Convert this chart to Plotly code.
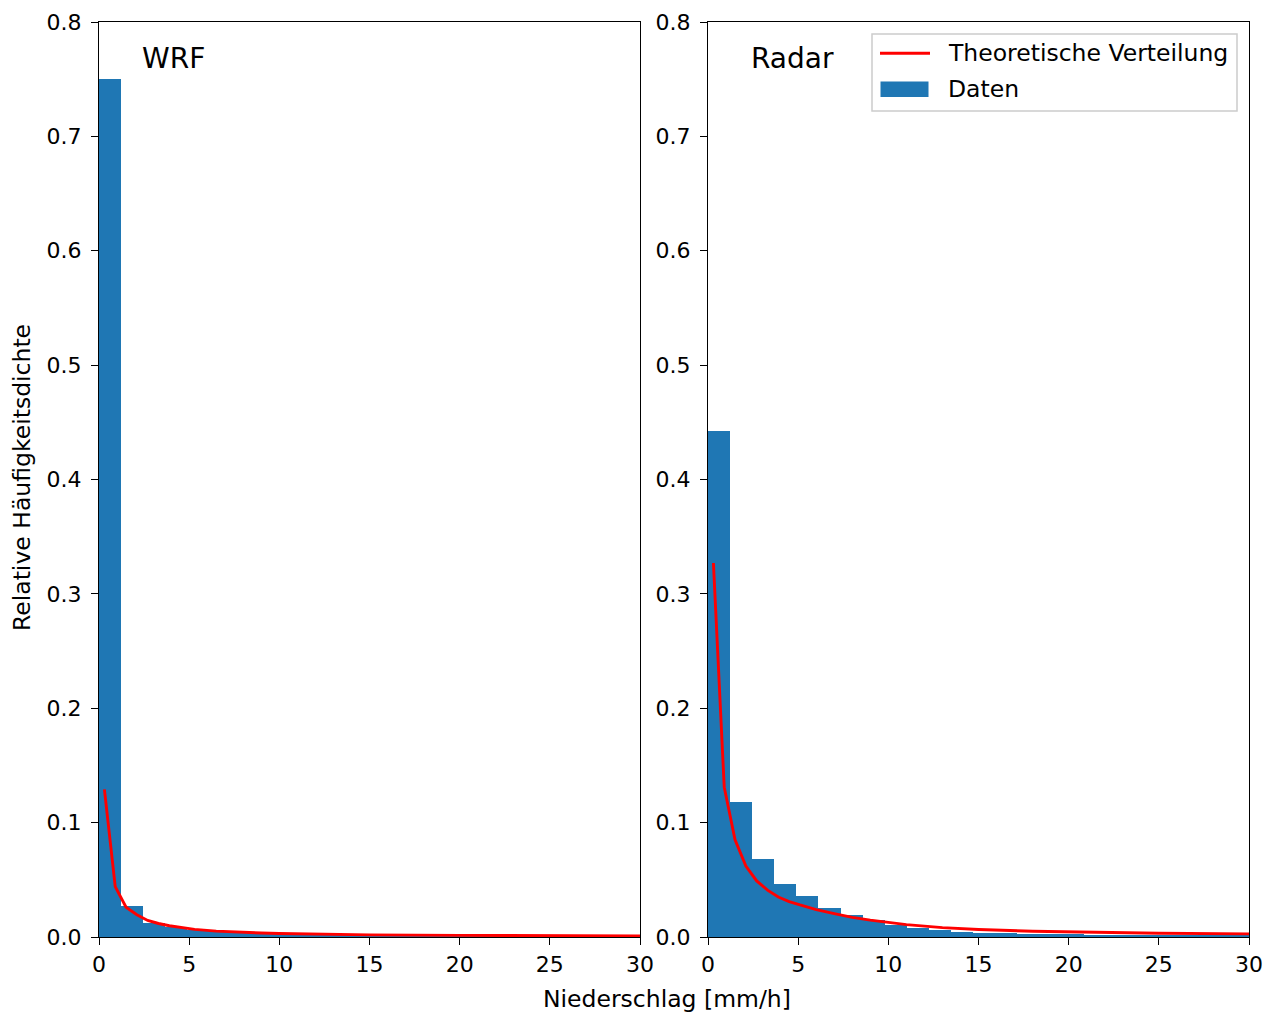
import plotly.graph_objects as go

# Histogram bin width (mm/h) shared by both panels
bin_width = 1.225

# Relative frequency density per bin, WRF model
wrf_density = [0.750, 0.0274, 0.0125, 0.0085, 0.0062, 0.0050, 0.0041, 0.0034,
               0.0029, 0.0025, 0.0021, 0.0019, 0.0017, 0.0015, 0.0013, 0.0012,
               0.0011, 0.0010, 0.0009, 0.0008, 0.0008, 0.0007, 0.0007, 0.0006,
               0.0006]

# Relative frequency density per bin, radar observations
radar_density = [0.442, 0.1177, 0.068, 0.046, 0.0358, 0.0256, 0.019, 0.015,
                 0.0105, 0.0075, 0.0057, 0.0047, 0.0039, 0.0033, 0.0029, 0.0026,
                 0.0023, 0.0021, 0.0019, 0.0017, 0.0016, 0.0015, 0.0014, 0.0013,
                 0.0012]

# Fitted theoretical distribution, WRF
wrf_fit_x = [0.3, 0.9, 1.5, 2.1, 2.7, 3.3, 3.9, 4.5, 5.3, 6.5, 7.5, 9.0, 10.0,
             12.5, 15.0, 20.0, 25.0, 30.0]
wrf_fit_y = [0.129, 0.044, 0.026, 0.0195, 0.0145, 0.0118, 0.0098, 0.0082,
             0.0067, 0.0051, 0.0042, 0.0035, 0.0031, 0.0024, 0.0019, 0.0014,
             0.0011, 0.0009]

# Fitted theoretical distribution, radar
radar_fit_x = [0.3, 0.9, 1.5, 2.1, 2.7, 3.3, 3.9, 4.5, 5.1, 6.0, 7.0, 8.0, 9.0,
               11.0, 13.0, 15.0, 18.0, 21.0, 25.0, 30.0]
radar_fit_y = [0.327, 0.131, 0.085, 0.062, 0.049, 0.041, 0.035, 0.031, 0.028,
               0.024, 0.0205, 0.0172, 0.0148, 0.0108, 0.0082, 0.0066, 0.0050,
               0.0041, 0.0033, 0.0027]

x_ticks = [0, 5, 10, 15, 20, 25, 30]
y_ticks = [0.0, 0.1, 0.2, 0.3, 0.4, 0.5, 0.6, 0.7, 0.8]

legend_labels = ["Theoretische Verteilung", "Daten"]

BLUE = "#1f77b4"
RED = "#ff0000"
FONT = "DejaVu Sans"
W, H = 1266, 1012


def px(x):
    """Horizontal pixel position -> paper fraction."""
    return x / W


def py(y):
    """Vertical pixel position (from top) -> paper fraction."""
    return 1 - y / H


fig = go.Figure()

panels = [
    ("x", "y", wrf_density, wrf_fit_x, wrf_fit_y),
    ("x2", "y2", radar_density, radar_fit_x, radar_fit_y),
]
for xa, ya, dens, fx, fy in panels:
    centers = [bin_width * (i + 0.5) for i in range(len(dens))]
    fig.add_trace(go.Bar(
        x=centers, y=dens, width=bin_width, xaxis=xa, yaxis=ya,
        marker=dict(color=BLUE, line=dict(width=0)),
        name=legend_labels[1], showlegend=False,
    ))
    fig.add_trace(go.Scatter(
        x=fx, y=fy, mode="lines", xaxis=xa, yaxis=ya,
        line=dict(color=RED, width=2.9),
        name=legend_labels[0], showlegend=False,
    ))

axis_common = dict(
    showline=True, mirror=True, linecolor="black", linewidth=1.4,
    ticks="outside", ticklen=7, tickwidth=1.4, tickcolor="black",
    showgrid=False, zeroline=False, automargin=False,
    tickfont=dict(family=FONT, size=22, color="black"),
)

# Legend box in the radar panel, drawn with shapes
shapes = [
    dict(type="rect", xref="paper", yref="paper",
         x0=px(872), x1=px(1237), y0=py(111), y1=py(34),
         line=dict(color="#cccccc", width=1.5), fillcolor="white", layer="above"),
    dict(type="line", xref="paper", yref="paper",
         x0=px(880), x1=px(930), y0=py(53.3), y1=py(53.3),
         line=dict(color=RED, width=2.9), layer="above"),
    dict(type="rect", xref="paper", yref="paper",
         x0=px(880.5), x1=px(928.5), y0=py(97), y1=py(81.5),
         line=dict(width=0), fillcolor=BLUE, layer="above"),
]

text_font = dict(family=FONT, size=23.5, color="black")
annotations = [
    dict(text="WRF", xref="x domain", yref="y domain", x=0.076, y=0.96,
         xanchor="left", yanchor="middle", showarrow=False,
         font=dict(family=FONT, size=28, color="black")),
    dict(text="Radar", xref="x2 domain", yref="y2 domain", x=0.076, y=0.96,
         xanchor="left", yanchor="middle", showarrow=False,
         font=dict(family=FONT, size=28, color="black")),
    dict(text="Niederschlag [mm/h]", xref="paper", yref="paper",
         x=px(667), y=py(999), xanchor="center", yanchor="middle",
         showarrow=False, font=text_font),
    dict(text="Relative Häufigkeitsdichte", xref="paper", yref="paper",
         x=px(22), y=py(478), xanchor="center", yanchor="middle",
         textangle=-90, showarrow=False, font=text_font),
    dict(text=legend_labels[0], xref="paper", yref="paper",
         x=px(946), y=py(53), xanchor="left", yanchor="middle",
         showarrow=False, font=text_font),
    dict(text=legend_labels[1], xref="paper", yref="paper",
         x=px(946), y=py(89.5), xanchor="left", yanchor="middle",
         showarrow=False, font=text_font),
]

fig.update_layout(
    width=W, height=H,
    margin=dict(l=0, r=0, t=0, b=0),
    paper_bgcolor="white", plot_bgcolor="white",
    bargap=0, barmode="overlay", showlegend=False,
    xaxis=dict(domain=[px(99), px(640)], range=[0, 30], tickvals=x_ticks,
               anchor="y", **axis_common),
    yaxis=dict(domain=[py(937), py(22)], range=[0, 0.8], tickvals=y_ticks,
               tickformat=".1f", anchor="x", ticklabelstandoff=5, **axis_common),
    xaxis2=dict(domain=[px(708), px(1249)], range=[0, 30], tickvals=x_ticks,
                anchor="y2", **axis_common),
    yaxis2=dict(domain=[py(937), py(22)], range=[0, 0.8], tickvals=y_ticks,
                tickformat=".1f", anchor="x2", ticklabelstandoff=5,
                **axis_common),
    shapes=shapes,
    annotations=annotations,
)

fig.write_html("out.html")
